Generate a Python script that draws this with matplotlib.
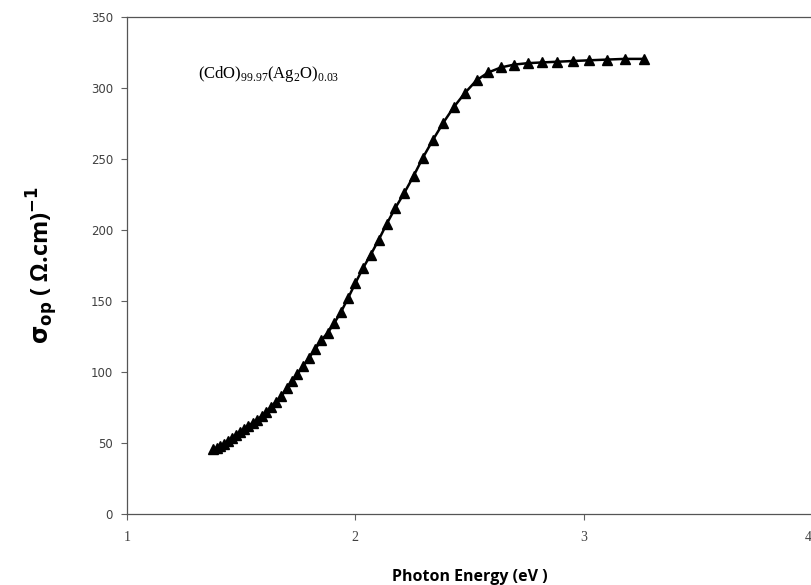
import matplotlib
matplotlib.use("Agg")
import matplotlib.pyplot as plt

energy = [1.378, 1.393, 1.409, 1.425, 1.442, 1.459, 1.476, 1.494, 1.512, 1.531,
          1.550, 1.570, 1.590, 1.610, 1.632, 1.653, 1.676, 1.699, 1.722, 1.746,
          1.771, 1.797, 1.824, 1.851, 1.879, 1.908, 1.938, 1.968, 2.000, 2.033,
          2.067, 2.102, 2.138, 2.175, 2.214, 2.255, 2.296, 2.340, 2.385, 2.431,
          2.480, 2.531, 2.583, 2.638, 2.696, 2.756, 2.818, 2.884, 2.952, 3.024,
          3.100, 3.179, 3.263]
sigma = [45.5, 46.8, 48.2, 49.6, 51.4, 53.4, 55.5, 57.7, 59.9, 62.0,
         64.2, 66.4, 69.0, 72.0, 75.6, 79.2, 83.0, 88.5, 93.5, 98.6,
         104.0, 110.0, 116.0, 122.5, 127.5, 134.5, 142.5, 152.0, 162.5, 173.0,
         182.5, 193.0, 204.5, 215.5, 226.0, 238.0, 251.0, 263.5, 275.5, 286.5,
         296.5, 305.5, 311.0, 314.5, 316.5, 317.5, 318.0, 318.5, 319.0, 319.5,
         320.0, 320.5, 320.5]
x_ticks = [1, 2, 3, 4]
y_ticks = [0, 50, 100, 150, 200, 250, 300, 350]

fig = plt.figure(figsize=(8.12, 5.85), dpi=100)
ax = fig.add_axes([127/812, 71/585, 685/812, 497/585])

ax.plot(energy, sigma, color='black', lw=1.8, marker='^', markersize=7,
        markerfacecolor='black', markeredgecolor='black')

ax.set_xlim(1, 4)
ax.set_ylim(0, 350)
ax.set_xticks(x_ticks)
ax.set_yticks(y_ticks)
xlabels = ax.set_xticklabels([str(t) for t in x_ticks], fontfamily='Liberation Serif',
                             fontsize=10, color='#404040')
xlabels[-1].set_horizontalalignment('right')
ax.set_yticklabels([str(t) for t in y_ticks], fontfamily='DejaVu Sans',
                   fontsize=8.5, color='#404040')
ax.tick_params(axis='both', direction='out', length=4, width=0.8, color='#606060')
ax.tick_params(axis='y', pad=6)
ax.tick_params(axis='x', pad=8)

for s in ax.spines.values():
    s.set_color('#555555')
    s.set_linewidth(0.9)
    s.set_linestyle((0, (2, 1)))

ax.set_xlabel('Photon Energy (eV )', fontfamily='Open Sans', fontweight='bold',
              fontsize=11.5, labelpad=18)
ax.set_ylabel(r'$\mathbf{\sigma_{op}}$ ( Ω.cm)$^{\mathbf{-1}}$', fontfamily='Open Sans',
              fontweight='bold', fontsize=17, labelpad=22)

ax.text(1.31, 310, r'(CdO)$_{\mathregular{99.97}}$(Ag$_{\mathregular{2}}$O)$_{\mathregular{0.03}}$',
        fontfamily='Liberation Serif', fontsize=12, va='center', ha='left')

fig.savefig('out.png', dpi=100)
